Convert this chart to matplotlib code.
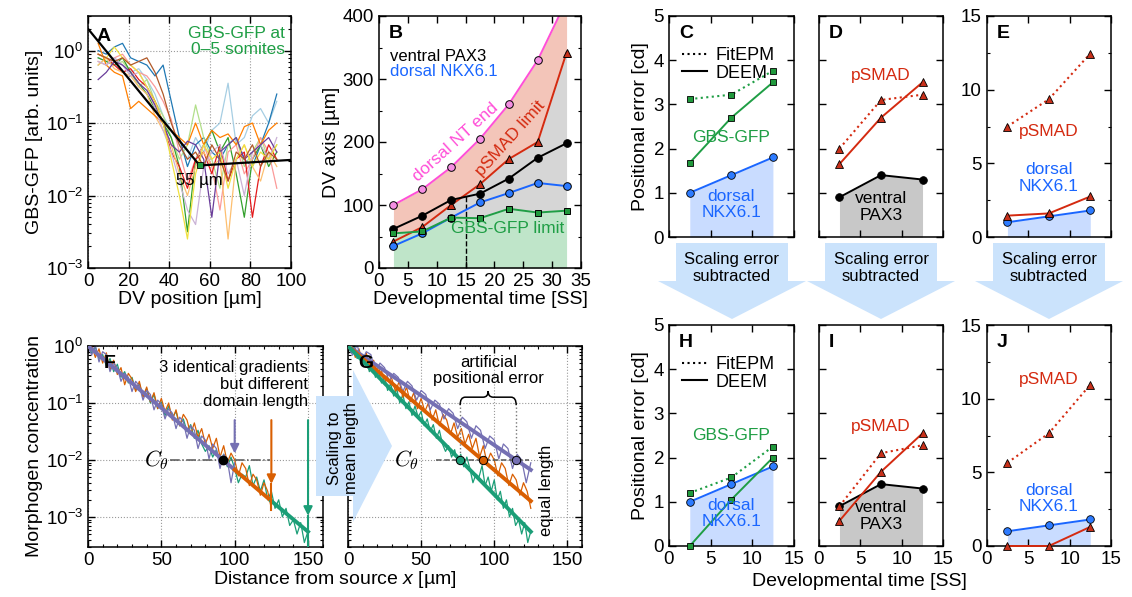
"""
Gradient precision figure: GBS-GFP profiles, DV boundary positions,
positional errors over developmental time and a scaling sketch.
"""

import numpy as np
import matplotlib.pyplot as plt
from matplotlib.lines import Line2D
from matplotlib.patches import Polygon, PathPatch
from matplotlib.path import Path
from matplotlib import transforms
from matplotlib.ticker import MultipleLocator, LogLocator, NullFormatter

plt.rcParams['font.family'] = ['Liberation Sans', 'DejaVu Sans']
plt.rcParams['mathtext.fontset'] = 'custom'
plt.rcParams['mathtext.rm'] = 'Liberation Sans'
plt.rcParams['mathtext.it'] = 'Liberation Sans:italic'
plt.rcParams['mathtext.bf'] = 'Liberation Sans:bold'
plt.rcParams['font.size'] = 13.5
plt.rcParams['axes.linewidth'] = 1.1

W, H = 1132, 597

# ---- A: GBS-GFP profiles at 0-5 somites (log10 of intensity) ----
gfp_x = [5, 9, 13, 17, 21, 25, 29, 33, 37, 41, 45, 49,
         53, 57, 61, 65, 69, 73, 77, 81, 85, 89, 93]
gfp_profiles = [
    [-0.10, -0.15, -0.10, -0.20, -0.30, -0.25, -0.40, -0.60, -0.90, -1.10, -1.30, -1.50,
     -1.20, -1.40, -1.10, -1.00, -0.45, -1.30, -1.20, -0.90, -0.80, -1.00, -0.70],
    [0.00, -0.05, 0.05, 0.10, -0.10, -0.15, -0.20, -0.35, -0.20, -0.70, -1.20, -1.60,
     -1.30, -1.20, -1.40, -1.50, -1.30, -1.20, -1.50, -1.60, -1.30, -1.00, -0.60],
    [-0.20, -0.10, -0.20, -0.15, -0.30, -0.50, -0.40, -0.70, -0.90, -1.20, -1.50, -1.30,
     -0.75, -1.20, -1.50, -1.90, -1.30, -1.20, -1.60, -1.40, -1.20, -1.50, -1.30],
    [-0.10, -0.15, -0.20, -0.10, -0.30, -0.45, -0.60, -0.80, -1.00, -1.20, -1.60, -2.50,
     -1.50, -1.30, -1.10, -1.40, -1.20, -1.70, -2.30, -1.50, -1.30, -1.60, -1.40],
    [-0.15, -0.20, -0.10, -0.05, -0.20, -0.30, -0.35, -0.50, -0.70, -0.95, -1.40, -1.80,
     -1.50, -1.30, -1.60, -2.20, -1.40, -1.30, -1.70, -1.50, -1.20, -1.40, -1.90],
    [-0.05, -0.10, -0.20, -0.30, -0.25, -0.40, -0.50, -0.70, -1.00, -1.40, -1.60, -1.90,
     -1.50, -1.40, -1.70, -1.30, -1.80, -1.50, -1.40, -2.30, -1.60, -1.30, -1.50],
    [-0.20, -0.10, -0.25, -0.30, -0.35, -0.50, -0.60, -0.90, -1.10, -1.30, -1.70, -2.00,
     -1.60, -1.40, -1.60, -1.50, -2.60, -1.50, -1.30, -1.60, -1.80, -1.40, -1.60],
    [0.10, -0.20, -0.30, -0.35, -0.80, -0.70, -0.80, -0.90, -1.00, -1.10, -1.20, -1.30,
     -1.00, -1.30, -1.10, -1.20, -1.15, -1.30, -1.05, -1.00, -1.30, -1.10, -1.00],
    [-0.15, -0.20, -0.10, -0.20, -0.35, -0.30, -0.50, -0.80, -1.10, -1.40, -1.80, -2.20,
     -2.40, -1.60, -1.40, -1.30, -1.70, -1.50, -2.00, -1.40, -1.30, -1.50, -1.20],
    [-0.40, -0.30, -0.15, -0.20, -0.30, -0.45, -0.55, -0.75, -1.00, -1.30, -1.40, -1.25,
     -1.30, -1.50, -2.30, -1.40, -1.30, -1.20, -1.50, -1.40, -1.30, -1.20, -1.40],
    [-0.05, -0.10, 0.05, -0.10, -0.20, -0.30, -0.50, -0.70, -1.00, -1.50, -2.00, -2.60,
     -1.70, -1.30, -1.50, -1.40, -1.90, -1.50, -1.30, -1.60, -1.40, -1.50, -1.30],
    [-0.05, -0.10, -0.15, -0.10, -0.20, -0.15, -0.10, -0.30, -0.60, -1.00, -1.30, -1.50,
     -1.40, -1.60, -1.30, -1.50, -1.80, -1.40, -1.50, -1.30, -1.60, -1.40, -1.50],
]
gfp_colors = ['#a6cee3', '#1f78b4', '#b2df8a', '#33a02c', '#fb9a99', '#e31a1c',
              '#fdbf6f', '#ff7f00', '#cab2d6', '#6a3d9a', '#f0e040', '#b15928']
fit_x = [0, 55, 100]
fit_y = [2.0, 0.026, 0.031]

# ---- B: boundary positions along the DV axis [um] ----
ss = [2.5, 7.5, 12.5, 17.5, 22.5, 27.5, 32.5]
nt_end = [100, 125, 160, 205, 260, 330, 425]
psmad_limit = [42, 65, 100, 133, 173, 200, 342]
pax3_ventral = [62, 83, 108, 118, 142, 175, 198]
nkx_dorsal = [35, 55, 80, 104, 119, 135, 130]
gfp_limit = [55, 58, 80, 79, 94, 88, 91]

# ---- C-E (raw) and H-J (scaling error subtracted) positional errors [cd] ----
ss_err = [2.5, 7.5, 12.5]
nkx_err = [1.0, 1.4, 1.8]
pax3_err = [0.9, 1.4, 1.3]
gfp_fit_raw = [3.12, 3.22, 3.76]
gfp_deem_raw = [1.68, 2.70, 3.50]
psmad_pax3_fit_raw = [2.0, 3.1, 3.22]
psmad_pax3_deem_raw = [1.65, 2.70, 3.50]
psmad_nkx_fit_raw = [7.5, 9.35, 12.45]
psmad_nkx_deem_raw = [1.45, 1.6, 2.75]
gfp_fit_sub = [1.2, 1.55, 2.25]
gfp_deem_sub = [0.0, 1.05, 2.0]
psmad_pax3_fit_sub = [0.9, 2.1, 2.28]
psmad_pax3_deem_sub = [0.57, 1.68, 2.55]
psmad_nkx_fit_sub = [5.65, 7.65, 10.95]
psmad_nkx_deem_sub = [0.0, 0.0, 1.3]

# ---- F/G: three noisy gradients with different domain lengths (log10) ----
domain_len = [100, 125, 150]
grad_step = 2.5
noisy_purple = [0.00, -0.16, 0.02, -0.28, -0.10, -0.15, -0.45, -0.30, -0.38, -0.62,
                -0.48, -0.55, -0.80, -0.62, -0.70, -0.95, -0.78, -0.85, -1.12, -0.95,
                -1.02, -1.28, -1.10, -1.18, -1.45, -1.25, -1.33, -1.62, -1.40, -1.48,
                -1.80, -1.58, -1.65, -1.98, -1.72, -1.80, -2.15, -1.90, -2.00, -2.40,
                -2.05]
noisy_orange = [-0.05, 0.02, -0.20, -0.05, -0.30, -0.12, -0.42, -0.25, -0.50, -0.38,
                -0.68, -0.48, -0.58, -0.80, -0.62, -0.90, -0.72, -0.98, -0.82, -1.10,
                -0.92, -1.15, -1.00, -1.30, -1.12, -1.40, -1.20, -1.30, -1.55, -1.35,
                -1.60, -1.45, -1.72, -1.55, -1.80, -1.62, -1.95, -1.75, -2.05, -1.88,
                -2.00, -2.28, -2.05, -2.15, -2.45, -2.25, -2.35, -2.62, -2.40, -2.55,
                -2.85]
noisy_green = [0.00, -0.12, -0.02, -0.22, -0.15, -0.35, -0.22, -0.45, -0.32, -0.55,
               -0.45, -0.65, -0.55, -0.78, -0.66, -0.88, -0.75, -1.00, -0.85, -1.10,
               -0.98, -1.22, -1.05, -1.25, -1.15, -1.40, -1.28, -1.50, -1.38, -1.62,
               -1.48, -1.72, -1.85, -1.75, -1.95, -1.82, -2.05, -1.90, -2.12, -1.95,
               -2.15, -2.40, -2.25, -2.30, -2.10, -2.45, -2.30, -2.55, -2.35, -2.70,
               -2.55, -2.85, -2.70, -3.00, -2.85, -3.15, -3.05, -3.30, -3.10, -3.45,
               -3.25]
grad_end = [6.7e-3, 1.9e-3, 5.5e-4]   # concentration at x = L for each gradient
c_theta = 1e-2
x_theta = 92
grad_colors = ['#7570b3', '#d95f02', '#1b9e77']

GREEN = '#1f9e45'
BLUE = '#1a66ff'
RED = '#d42a10'
MAGENTA = '#ff4fd8'
LIGHTBLUE = '#c9dcff'


def add_ax(left, top, right, bottom):
    return fig.add_axes([left / W, 1 - bottom / H, (right - left) / W, (bottom - top) / H])


def style_ticks(ax):
    ax.tick_params(which='both', direction='in', top=True, right=True)
    ax.tick_params(which='major', length=5, width=1)
    ax.tick_params(which='minor', length=2.5, width=0.8)


def letter(ax, s, x=0.07, y=0.93):
    ax.text(x, y, s, transform=ax.transAxes, fontsize=14, fontweight='bold',
            ha='left', va='center', zorder=10)


fig = plt.figure(figsize=(W / 100, H / 100), dpi=100)

# ---------------- A ----------------
ax = add_ax(88, 16, 291, 268)
for prof, col in zip(gfp_profiles, gfp_colors):
    ax.plot(gfp_x, 10 ** np.array(prof), color=col, lw=0.9)
ax.plot(fit_x, fit_y, color='k', lw=1.6)
ax.plot(fit_x[1], fit_y[1], 's', color=GREEN, mec='k', mew=0.6, ms=5)
ax.text(fit_x[1], 0.016, '%d µm' % fit_x[1], ha='center', va='center', fontsize=12)
ax.set_yscale('log')
ax.set_xlim(0, 100)
ax.set_ylim(1e-3, 3)
ax.xaxis.set_major_locator(MultipleLocator(20))
ax.yaxis.set_minor_locator(LogLocator(base=10, subs=np.arange(2, 10), numticks=20))
ax.yaxis.set_minor_formatter(NullFormatter())
ax.grid(True, which='major', ls=':', color='#999999', lw=0.8)
style_ticks(ax)
ax.set_xlabel('DV position [µm]', fontsize=14, labelpad=1)
ax.set_ylabel('GBS-GFP [arb. units]', fontsize=14, labelpad=2)
ax.text(0.97, 0.96, 'GBS-GFP at\n0–5 somites', transform=ax.transAxes, ha='right',
        va='top', color=GREEN, fontsize=12.5, linespacing=1.1)
letter(ax, 'A', 0.04, 0.92)

# ---------------- B ----------------
ax = add_ax(379, 16, 581, 268)
ax.fill_between(ss, psmad_limit, nt_end, color='#f3c5b9', lw=0)
ax.fill_between(ss, gfp_limit, psmad_limit, color='#d6d6d6', lw=0)
ax.fill_between(ss, 0, gfp_limit, color='#bfe5c9', lw=0)
ax.plot([15, 15], [0, 116], color='k', ls='--', lw=1)
mk = dict(mec='k', mew=0.7, ms=5.5, lw=1.4)
ax.plot(ss, nt_end, 'o-', color=MAGENTA, mfc='#f58fe3', **mk)
ax.plot(ss, psmad_limit, '^-', color=RED, mfc='#c8301a', **mk)
ax.plot(ss, pax3_ventral, 'o-', color='k', mfc='k', **mk)
ax.plot(ss, nkx_dorsal, 'o-', color=BLUE, mfc='#2d7bff', **mk)
ax.plot(ss, gfp_limit, 's-', color=GREEN, mfc='#20993c', mec='k', mew=0.7, ms=5, lw=1.4)
ax.set_xlim(0, 35)
ax.set_ylim(0, 400)
ax.xaxis.set_major_locator(MultipleLocator(5))
ax.yaxis.set_major_locator(MultipleLocator(100))
ax.yaxis.set_minor_locator(MultipleLocator(50))
style_ticks(ax)
ax.set_xlabel('Developmental time [SS]', fontsize=14, labelpad=1)
ax.set_ylabel('DV axis [µm]', fontsize=14, labelpad=2)
ax.text(0.055, 0.838, 'ventral PAX3', transform=ax.transAxes, fontsize=12, va='center')
ax.text(0.055, 0.778, 'dorsal NKX6.1', transform=ax.transAxes, fontsize=12, va='center',
        color=BLUE)
ax.text(13.2, 200, 'dorsal NT end', rotation=42, color=MAGENTA, fontsize=12.5,
        ha='center', va='center', rotation_mode='anchor')
ax.text(22.7, 205, 'pSMAD limit', rotation=48, color=RED, fontsize=12.5,
        ha='center', va='center', rotation_mode='anchor')
ax.text(22.3, 63, 'GBS-GFP limit', color=GREEN, fontsize=12.5, ha='center', va='center')
letter(ax, 'B', 0.05, 0.93)


# ---------------- C-E / H-J ----------------
def err_panel(ax, ymax, show_y):
    ax.set_xlim(0, 15)
    ax.set_ylim(0, ymax)
    ax.xaxis.set_major_locator(MultipleLocator(5))
    ax.yaxis.set_major_locator(MultipleLocator(1 if ymax == 5 else 5))
    if ymax == 15:
        ax.yaxis.set_minor_locator(MultipleLocator(2.5))
    style_ticks(ax)
    if not show_y:
        ax.set_yticklabels([])


def fit_deem(ax, fit, deem, color, marker, mfc, ms=5.5):
    ax.plot(ss_err, fit, ls=':', marker=marker, color=color, mfc=mfc, mec='k',
            mew=0.6, ms=ms, lw=1.5, clip_on=False, zorder=4)
    ax.plot(ss_err, deem, ls='-', marker=marker, color=color, mfc=mfc, mec='k',
            mew=0.6, ms=ms, lw=1.4, clip_on=False, zorder=4)


def ref_line(ax, vals, color, fill, mfc):
    ax.fill_between(ss_err, 0, vals, color=fill, lw=0, zorder=1)
    ax.plot(ss_err, vals, 'o-', color=color, mfc=mfc, mec='k', mew=0.6, ms=5.5,
            lw=1.4, zorder=3)


def legend_fe(ax):
    handles = [Line2D([], [], color='k', ls=':', lw=1.5),
               Line2D([], [], color='k', ls='-', lw=1.5)]
    ax.legend(handles, ['FitEPM', 'DEEM'], loc='upper left', bbox_to_anchor=(0.0, 0.915),
              frameon=False, handlelength=1.4, handletextpad=0.5, labelspacing=0.02,
              fontsize=13, borderaxespad=0.3)


rows = [
    (16, 237, 'CDE', gfp_fit_raw, gfp_deem_raw, psmad_pax3_fit_raw, psmad_pax3_deem_raw,
     psmad_nkx_fit_raw, psmad_nkx_deem_raw,
     [2.26, 0.74, 3.66, 0.68, 7.13, 4.0]),
    (325, 546, 'HIJ', gfp_fit_sub, gfp_deem_sub, psmad_pax3_fit_sub, psmad_pax3_deem_sub,
     psmad_nkx_fit_sub, psmad_nkx_deem_sub,
     [2.51, 0.74, 2.71, 0.68, 11.27, 3.24]),
]
for (top, bot, names, gf, gd, pf, pd, nf, nd, ty) in rows:
    # first column: GBS-GFP against dorsal NKX6.1
    ax = add_ax(669, top, 793.7, bot)
    ref_line(ax, nkx_err, BLUE, LIGHTBLUE, '#2d7bff')
    fit_deem(ax, gf, gd, GREEN, 's', '#20993c', ms=5)
    err_panel(ax, 5, True)
    ax.set_ylabel('Positional error [cd]', fontsize=14, labelpad=3)
    ax.text(7.5, ty[0], 'GBS-GFP', color=GREEN, ha='center', va='center', fontsize=12.5)
    ax.text(7.5, ty[1], 'dorsal\nNKX6.1', color=BLUE, ha='center', va='center',
            fontsize=12.5, linespacing=1.1, zorder=5)
    legend_fe(ax)
    letter(ax, names[0], 0.08, 0.92)
    if names[0] == 'H':
        ax.set_xticks([0, 5, 10, 15])
    else:
        ax.set_xticklabels([])

    # second column: pSMAD against ventral PAX3
    ax = add_ax(818.7, top, 943.3, bot)
    ref_line(ax, pax3_err, 'k', '#c8c8c8', 'k')
    fit_deem(ax, pf, pd, RED, '^', '#c8301a')
    err_panel(ax, 5, False)
    ax.text(7.5, ty[2], 'pSMAD', color=RED, ha='center', va='center', fontsize=12.5)
    ax.text(7.5, ty[3], 'ventral\nPAX3', color='k', ha='center', va='center',
            fontsize=12.5, linespacing=1.1, zorder=5)
    letter(ax, names[1], 0.08, 0.92)
    if names[1] != 'I':
        ax.set_xticklabels([])

    # third column: pSMAD against dorsal NKX6.1
    ax = add_ax(986.7, top, 1111, bot)
    ref_line(ax, nkx_err, BLUE, LIGHTBLUE, '#2d7bff')
    fit_deem(ax, nf, nd, RED, '^', '#c8301a')
    err_panel(ax, 15, True)
    ax.text(7.5, ty[4], 'pSMAD', color=RED, ha='center', va='center', fontsize=12.5)
    ax.text(7.5, ty[5], 'dorsal\nNKX6.1', color=BLUE, ha='center', va='center',
            fontsize=12.5, linespacing=1.1, zorder=5)
    letter(ax, names[2], 0.08, 0.92)
    if names[2] != 'J':
        ax.set_xticklabels([])

fig.text(859 / W, 1 - 582 / H, 'Developmental time [SS]', ha='center', va='center',
         fontsize=14)

# ---------------- F / G ----------------
noisy = [noisy_purple, noisy_orange, noisy_green]


def grad_axes(ax):
    ax.set_yscale('log')
    ax.set_xlim(0, 160)
    ax.set_ylim(3e-4, 1)
    ax.xaxis.set_major_locator(MultipleLocator(50))
    ax.xaxis.set_minor_locator(MultipleLocator(10))
    ax.yaxis.set_minor_locator(LogLocator(base=10, subs=np.arange(2, 10), numticks=20))
    ax.yaxis.set_minor_formatter(NullFormatter())
    ax.grid(True, which='major', ls=':', color='#999999', lw=0.8)
    style_ticks(ax)


ax_f = add_ax(88, 346, 322.7, 546.7)
for vals, col in zip(noisy[::-1], grad_colors[::-1]):
    xs = np.arange(len(vals)) * grad_step
    ax_f.plot(xs, 10 ** np.array(vals), color=col, lw=0.9)
# shared exponential: each domain continues the same decay
ax_f.plot([0, domain_len[0]], [1, grad_end[0]], color=grad_colors[0], lw=2.8, zorder=4)
ax_f.plot([domain_len[0], domain_len[1]], [grad_end[0], grad_end[1]],
          color=grad_colors[1], lw=2.8, zorder=4)
ax_f.plot([domain_len[1], domain_len[2]], [grad_end[1], grad_end[2]],
          color=grad_colors[2], lw=2.8, zorder=4)
ax_f.plot([56, 124], [c_theta, c_theta], color='#555555', ls='-.', lw=1.1, zorder=3)
ax_f.plot(x_theta, c_theta, 'o', color='k', ms=6, zorder=6)
ax_f.text(47, c_theta, r'$C_\theta$', math_fontfamily='cm', fontsize=16,
          ha='center', va='center')
arrow_tips = [0.013, 3.8e-3, 1.05e-3]
arrow_tails = [0.013, 1.3e-3, 3e-4]
for L, tip, tail, col in zip(domain_len, arrow_tips, arrow_tails, grad_colors):
    ax_f.plot([L, L], [tip, tail], color=col, lw=1.5, zorder=5)
    ax_f.annotate('', xy=(L, tip), xytext=(L, 0.05),
                  arrowprops=dict(arrowstyle='-|>', color=col, lw=1.5,
                                  mutation_scale=13, shrinkA=0, shrinkB=0), zorder=5)
ax_f.text(150, 0.21, '3 identical gradients\nbut different\ndomain length',
          ha='right', va='center', fontsize=12, linespacing=1.15)
grad_axes(ax_f)
ax_f.set_ylabel('Morphogen concentration', fontsize=14, labelpad=2)
letter(ax_f, 'F', 0.065, 0.915)

ax_g = add_ax(348, 346, 582, 546.7)
mean_len = domain_len[1]
for vals, col, L in zip(noisy[::-1], grad_colors[::-1], domain_len[::-1]):
    xs = np.arange(len(vals)) * grad_step * mean_len / L
    ax_g.plot(xs, 10 ** np.array(vals), color=col, lw=0.9)
for end, col in zip(grad_end, grad_colors):
    ax_g.plot([0, mean_len], [1, end], color=col, lw=2.8, zorder=4)
ax_g.plot([60, 124], [c_theta, c_theta], color='#555555', ls='--', lw=1.1, zorder=3)
x_scaled = [x_theta * mean_len / L for L in domain_len]
for xs_, col in zip(x_scaled, grad_colors):
    ax_g.plot(xs_, c_theta, 'o', color=col, mec='k', mew=0.7, ms=6, zorder=6)
ax_g.text(40, c_theta, r'$C_\theta$', math_fontfamily='cm', fontsize=16,
          ha='center', va='center')

# curly brace over the spread of threshold positions
x0, x1 = min(x_scaled), max(x_scaled)
xc = 0.5 * (x0 + x1)
ye, ym, yt, d = 0.705, 0.745, 0.775, 3.5
verts = [(x0, ye), (x0, ym), (x0 + d, ym), (xc - d, ym), (xc, ym), (xc, yt),
         (xc, ym), (xc + d, ym), (x1 - d, ym), (x1, ym), (x1, ye)]
codes = [Path.MOVETO, Path.CURVE3, Path.CURVE3, Path.LINETO, Path.CURVE3, Path.CURVE3,
         Path.CURVE3, Path.CURVE3, Path.LINETO, Path.CURVE3, Path.CURVE3]
blend = transforms.blended_transform_factory(ax_g.transData, ax_g.transAxes)
ax_g.add_patch(PathPatch(Path(verts, codes), transform=blend, fill=False, lw=1.1,
                         color='k', zorder=6))
for xb in (x0, x1):
    ax_g.plot([xb, xb], [0.085, c_theta], color='#777777', ls=':', lw=1, zorder=5)
ax_g.text(96, 0.37, 'artificial\npositional error', ha='center', va='center',
          fontsize=12, linespacing=1.15)
ax_g.text(136, 2.9e-3, 'equal length', rotation=90, ha='center', va='center', fontsize=12)
grad_axes(ax_g)
ax_g.set_yticklabels([])
letter(ax_g, 'G', 0.045, 0.915)

fig.text(335 / W, 1 - 580 / H, 'Distance from source $x$ [µm]', ha='center',
         va='center', fontsize=14)

# ---------------- block arrows ----------------
over = fig.add_axes([0, 0, 1, 1], zorder=20)
over.set_xlim(0, W)
over.set_ylim(H, 0)
over.axis('off')
ARROW = '#cbe3fc'
for cx in (732, 881, 1049):
    over.add_patch(Polygon([(cx - 56, 243), (cx + 56, 243), (cx + 56, 281), (cx + 74, 281),
                            (cx, 319), (cx - 74, 281), (cx - 56, 281)],
                           closed=True, color=ARROW, lw=0))
    over.text(cx, 268, 'Scaling error\nsubtracted', ha='center', va='center',
              fontsize=12, linespacing=1.15)
over.add_patch(Polygon([(316, 396), (353, 396), (353, 370), (392, 446), (353, 522),
                        (353, 496), (316, 496)], closed=True, color=ARROW, lw=0))
over.text(343, 448, 'Scaling to\nmean length', rotation=90, ha='center', va='center',
          fontsize=12, linespacing=1.15)

fig.savefig('out.png', dpi=100)
